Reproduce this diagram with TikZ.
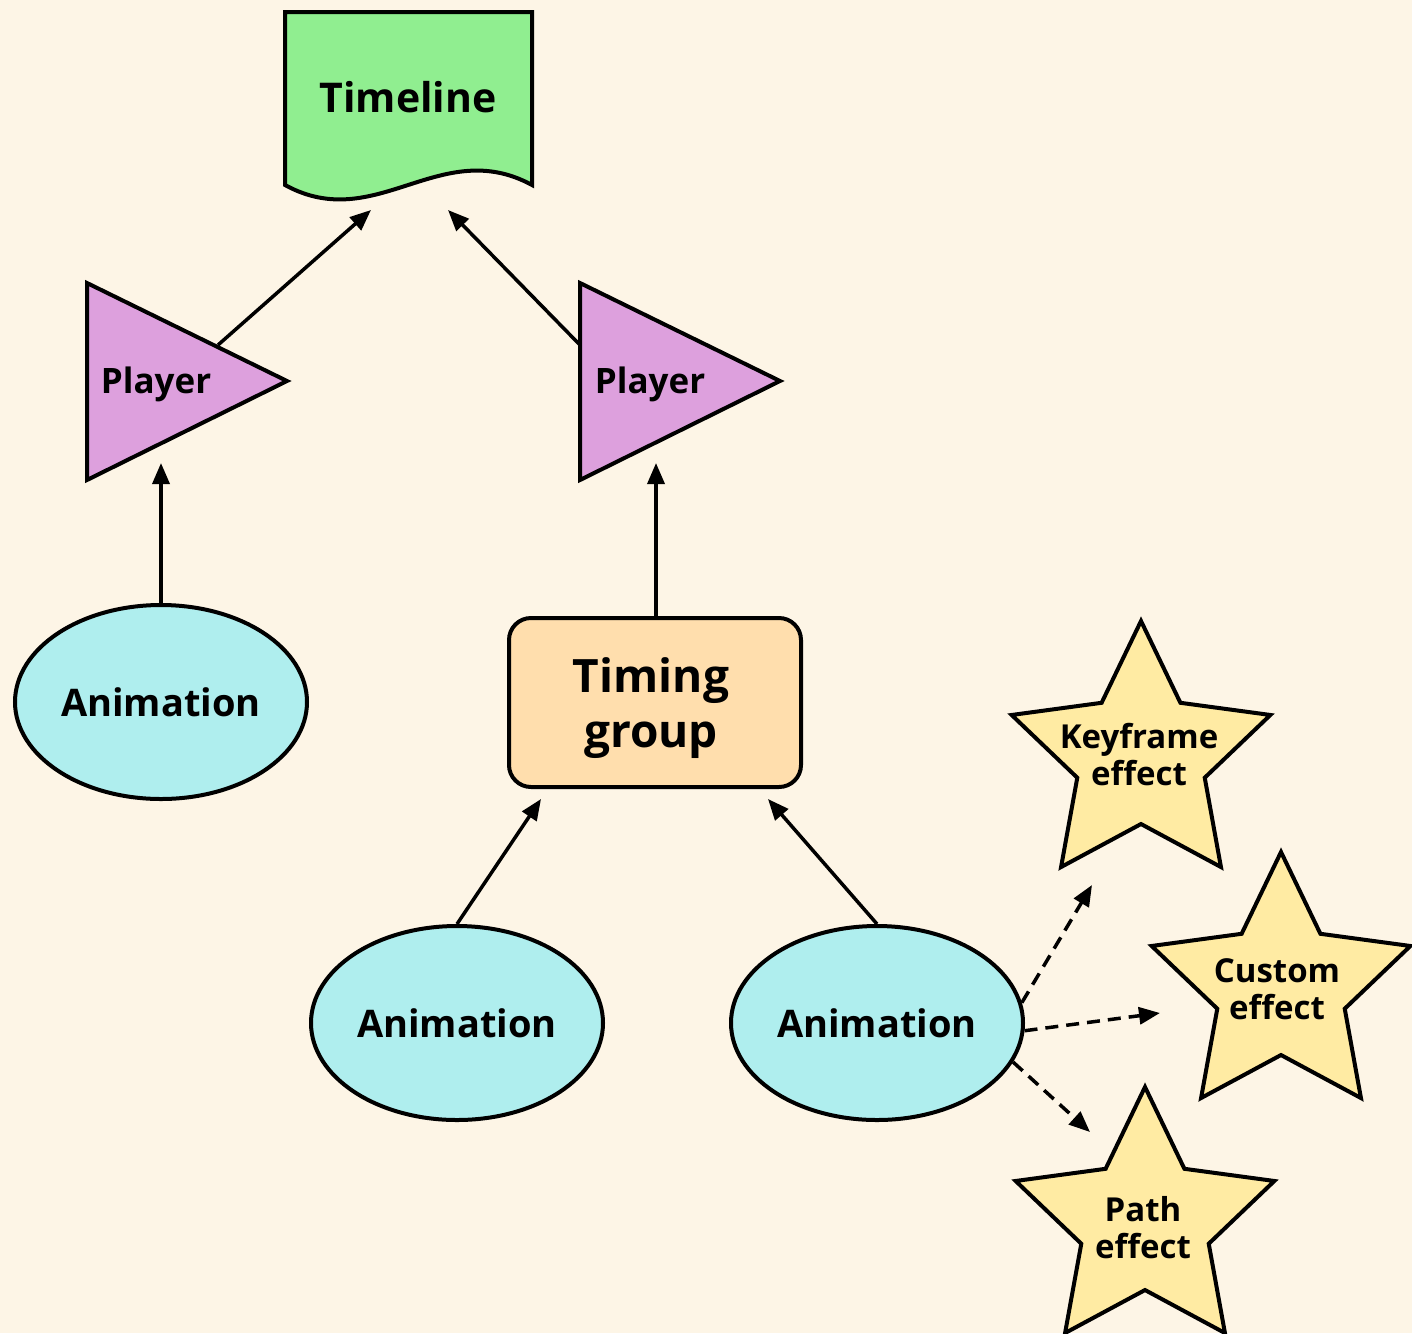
\documentclass[tikz,border=0pt]{standalone}
\usepackage{fontspec}
\setmainfont{Open Sans}
\usetikzlibrary{shapes.geometric,arrows.meta}

\definecolor{paper}{HTML}{FDF5E6}
\definecolor{tlgreen}{HTML}{90EE90}
\definecolor{plum}{HTML}{DDA0DD}
\definecolor{turq}{HTML}{AFEEEE}
\definecolor{navajo}{HTML}{FFDEAD}
\definecolor{starfill}{HTML}{FFEBA3}

\tikzset{
  outline/.style={draw=black, line width=4pt, line join=miter},
  oval/.style={outline, ellipse, fill=turq, minimum width=292pt, minimum height=194pt, inner sep=0pt,
    font=\bfseries\fontsize{38}{44}\selectfont},
  groupbox/.style={outline, rectangle, rounded corners=22pt, fill=navajo, minimum width=292pt,
    minimum height=169pt, inner sep=0pt},
  grouptext/.style={align=center, inner sep=0pt, font=\bfseries\fontsize{46}{55}\selectfont},
  starbox/.style={outline, star, star points=5, star point ratio=2.03, minimum size=272pt,
    inner sep=0pt, fill=starfill},
  startext/.style={align=center, inner sep=0pt, font=\bfseries\fontsize{33}{37}\selectfont},
  playertext/.style={inner sep=0pt, font=\bfseries\fontsize{35}{40}\selectfont},
  arr/.style={line width=3.5pt, -{Triangle[length=21pt,width=17pt]}},
  dasharr/.style={arr, dash pattern=on 13pt off 8pt},
}

\begin{document}
\begin{tikzpicture}[x=1pt,y=1pt]
\useasboundingbox (0,0) rectangle (1412,-1333);
\fill[paper] (0,0) rectangle (1412,-1333);

% Timeline: document shape with a wavy lower edge
\draw[outline, fill=tlgreen] (285,-12) -- (532,-12) -- (532,-185)
  .. controls (440,-135) and (376,-235) .. (285,-185) -- cycle;
\node[inner sep=0pt, font=\bfseries\fontsize{41}{48}\selectfont] (timeline) at (408,-97) {Timeline};

% Players (right-pointing triangles)
\draw[outline, fill=plum] (87,-283) -- (87,-480) -- (287,-381) -- cycle;
\node[playertext] (player1) at (156,-384) {Player};
\draw[outline, fill=plum] (580,-283) -- (580,-480) -- (780,-381) -- cycle;
\node[playertext] (player2) at (650,-384) {Player};

% Animations
\node[oval] (anim1) at (161,-702) {Animation};
\node[oval] (anim2) at (457,-1023) {Animation};
\node[oval] (anim3) at (877,-1023) {Animation};

% Timing group
\node[groupbox] (tg) at (655,-702.5) {};
\node[grouptext] (tgtext) at (651,-708) {Timing\\group};

% Effects (stars)
\node[starbox] (kfstar) at (1141,-757) {};
\node[startext] (kf) at (1139,-755) {Keyframe\\effect};
\node[starbox] (custar) at (1281,-988) {};
\node[startext] (cu) at (1277,-989) {Custom\\effect};
\node[starbox] (pastar) at (1145,-1223) {};
\node[startext] (pa) at (1143,-1228) {Path\\effect};

% Connector end points
\coordinate (p1out) at (218,-345);
\coordinate (p2out) at (580,-345);
\coordinate (tlin1) at (371,-210);
\coordinate (tlin2) at (448,-210);
\coordinate (p1in) at (161,-463);
\coordinate (p2in) at (656,-463);
\coordinate (tgin1) at (541,-799);
\coordinate (tgin2) at (768,-799);
\coordinate (kfin) at (1092,-885);
\coordinate (cuin) at (1160,-1013);
\coordinate (pain) at (1090,-1132);

% Connectors
\draw[arr] (p1out) -- (tlin1);
\draw[arr] (p2out) -- (tlin2);
\draw[arr] (anim1.north) -- (p1in);
\draw[arr] (tg.north -| p2in) -- (p2in);
\draw[arr] (anim2.north) -- (tgin1);
\draw[arr] (anim3.north) -- (tgin2);
\draw[dasharr] (anim3.8) -- (kfin);
\draw[dasharr] (anim3.-3) -- (cuin);
\draw[dasharr] (anim3.-16) -- (pain);
\end{tikzpicture}
\end{document}
